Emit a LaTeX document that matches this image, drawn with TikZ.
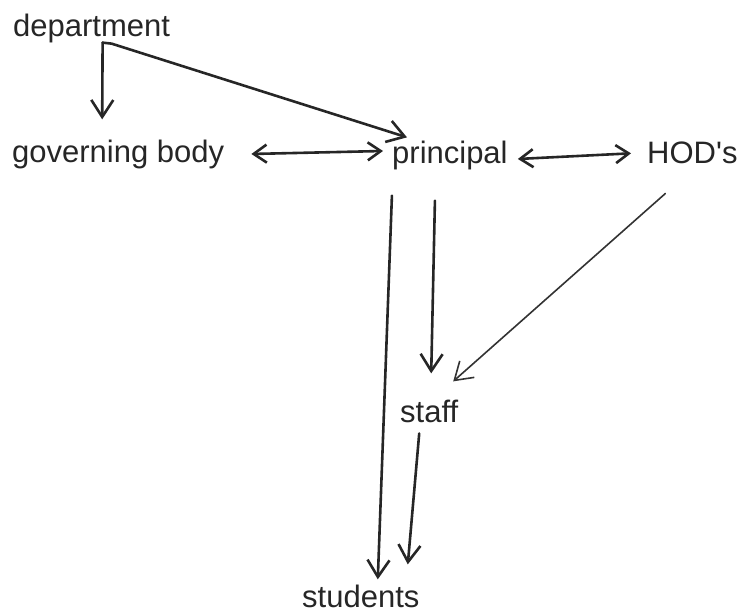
\documentclass[tikz,border=0pt]{standalone}
\usepackage{fontspec}
\setmainfont{Liberation Sans}
\usetikzlibrary{arrows.meta,calc}
\begin{document}
\begin{tikzpicture}[x=1pt,y=-1pt,
  lbl/.style={anchor=base west,inner sep=0pt,text=black!85,font=\fontsize{31}{36}\selectfont},
  conn/.style={line width=2.6pt,line cap=round,line join=round,draw=black!85},
  thin/.style={line width=1.6pt,line cap=round,draw=black!80},
  tipv/.style={-{Straight Barb[length=17pt,width=22pt]}},
  tipvv/.style={{Straight Barb[length=13pt,width=18pt]}-{Straight Barb[length=13pt,width=18pt]}}]
\useasboundingbox (0,0) rectangle (742,614);
\node[lbl] (dept) at (13,36) {department};
\node[lbl] (gov) at (12,162) {governing body};
\node[lbl] (prin) at (392,163) {principal};
\node[lbl] (hod) at (647,163) {HOD\textquotesingle s};
\node[lbl] (staff) at (400,422) {staff};
\node[lbl] (stud) at (302,607) {students};
% department -> governing body
\draw[conn,tipv] ($(dept.south)+(11,0)$) -- ($(gov.north)+(-16,-20)$);
% department -> principal
\draw[conn,tipv] ($(dept.south)+(11,0)$) -- ($(dept.south)+(20,1)$) -- ($(prin.north west)+(15,-3)$);
% governing body <-> principal
\draw[conn,tipvv] ($(gov.east)+(27,0)$) -- ($(prin.west)+(-9,-4)$);
% principal <-> HOD's
\draw[conn,tipvv] ($(prin.east)+(10,4)$) -- ($(hod.west)+(-16,1)$);
% principal -> students
\draw[conn,tipv] ($(prin.south)+(-58,26)$) -- ($(stud.north)+(17,-5)$);
% principal -> staff
\draw[conn,tipv] ($(prin.south)+(-15,31)$) -- ($(staff.north)+(2,-26)$);
% HOD's -> staff
\draw[thin,tipv] ($(hod.south)+(-27,30)$) -- ($(staff.north)+(24,-18)$);
% staff -> students
\draw[conn,tipv] ($(staff.south)+(-10,11)$) -- ($(stud.north)+(47,-20)$);
\end{tikzpicture}
\end{document}
